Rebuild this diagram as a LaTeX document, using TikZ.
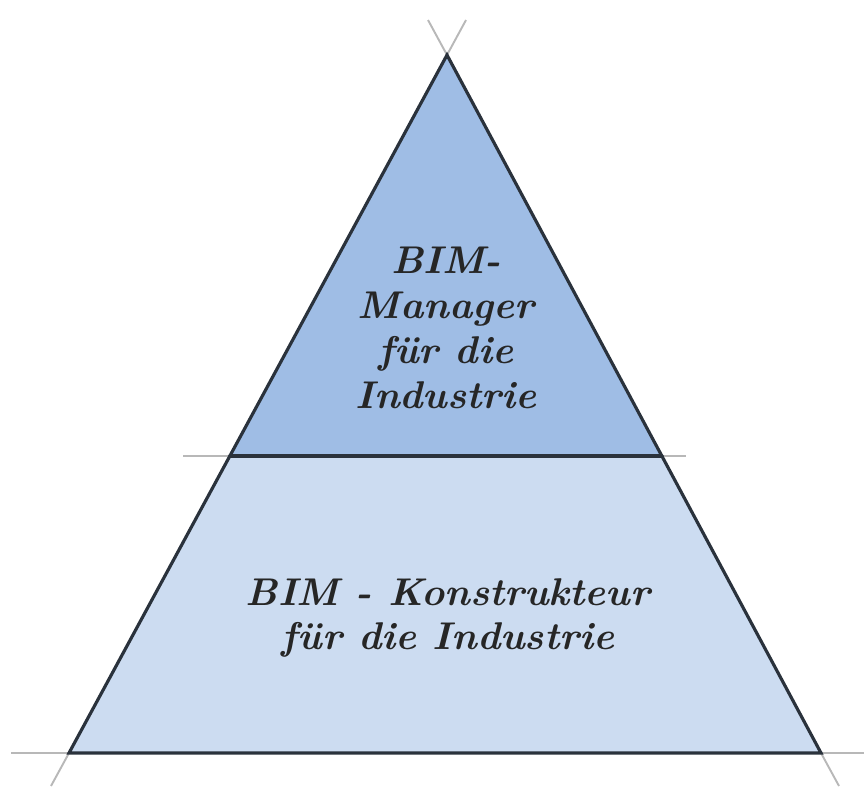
\documentclass[tikz,border=0pt]{standalone}
\usepackage{tikz}
\definecolor{topblue}{HTML}{9FBDE5}
\definecolor{lowblue}{HTML}{CCDCF1}
\definecolor{edgegray}{HTML}{2A323C}

\begin{document}
\begin{tikzpicture}
  [
    x=0.02cm, y=-0.02cm,
    edge/.style  = {draw=edgegray, line width=1.8pt, line cap=round},
    tail/.style  = {draw=black!28, line width=1.1pt},
    layer/.style = {font=\fontsize{22}{25.5}\selectfont\bfseries\itshape, align=center, xscale=1.02, text=black!85},
  ]
 \useasboundingbox (0,0) rectangle (864,787);

 \coordinate (apex)  at (447,55);
 \coordinate (midL)  at (230,456);
 \coordinate (midR)  at (662,456);
 \coordinate (baseL) at (69,753);
 \coordinate (baseR) at (821,753);

 % loose ends past the corners
 \coordinate (apexL) at (428,20);
 \coordinate (apexR) at (466,20);
 \coordinate (midLx) at (183,456);
 \coordinate (midRx) at (686,456);
 \coordinate (baseLx) at (11,753);
 \coordinate (baseRx) at (864,753);
 \coordinate (footL) at (51,786);
 \coordinate (footR) at (839,786);

 \fill[lowblue] (midL) -- (midR) -- (baseR) -- (baseL) -- cycle;
 \fill[topblue] (apex) -- (midR) -- (midL) -- cycle;

 \draw[tail] (apex) -- (apexL)  (apex) -- (apexR);
 \draw[tail] (midL) -- (midLx)  (midR) -- (midRx);
 \draw[tail] (baseL) -- (baseLx)  (baseR) -- (baseRx);
 \draw[tail] (baseL) -- (footL)  (baseR) -- (footR);

 \draw[edge] (baseL) -- (apex) -- (baseR) -- cycle;
 \draw[edge] (midL) -- (midR);

 \node[layer] (manager) at (446,328) {BIM-\\Manager\\für die\\Industrie};
 \node[layer] (konstrukteur) at (448,618) {BIM - Konstrukteur\\für die Industrie};

\end{tikzpicture}
\end{document}
